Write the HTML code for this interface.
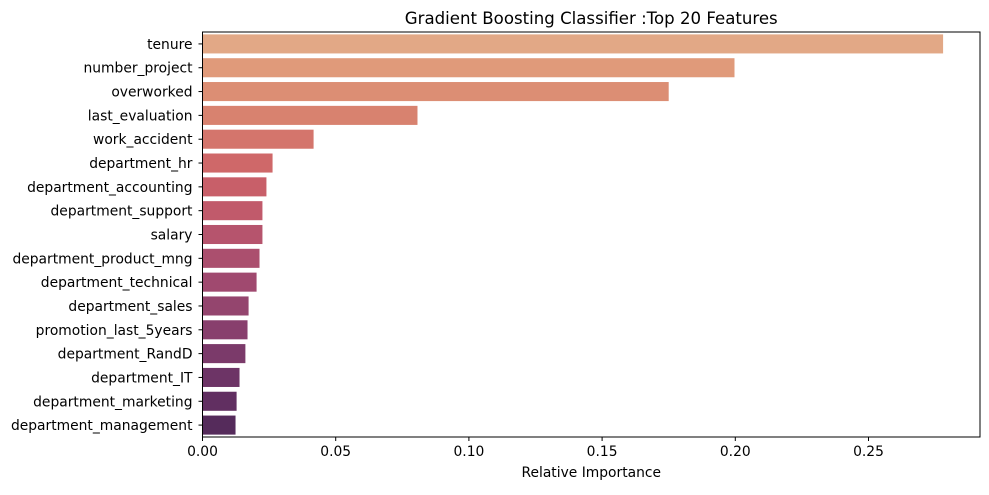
<!DOCTYPE html>
<html><head><meta charset="utf-8"><style>
body{margin:0;background:#fff}
svg text{font-family:"DejaVu Sans","Liberation Sans",sans-serif;fill:#000}
</style></head><body>
<svg id="c" width="989" height="490"></svg>
<script>
const categories=["tenure","number_project","overworked","last_evaluation","work_accident","department_hr","department_accounting","department_support","salary","department_product_mng","department_technical","department_sales","promotion_last_5years","department_RandD","department_IT","department_marketing","department_management"];
const values=[0.278,0.1997,0.175,0.0807,0.0417,0.0263,0.024,0.0225,0.0225,0.0214,0.0203,0.0173,0.0169,0.0161,0.0139,0.0128,0.0124];
const tickValues=[0,0.05,0.1,0.15,0.2,0.25];
const tickLabels=["0.00","0.05","0.10","0.15","0.20","0.25"];
const colors=["#e2a886","#e09a7a","#dc8e74","#d8826f","#d4756c","#cf6869","#c85f69","#c15a6b","#b6546d","#ab4f6e","#a0496f","#94456e","#883f6d","#7b3a6a","#6d3466","#612f61","#552b5b"];
const svg=document.getElementById('c');const NS='http://www.w3.org/2000/svg';
const L=202.5,R=980,T=32,B=437;
const xs=v=>L+v*2664;
const band=(B-T)/categories.length;
const ys=i=>T+band*(i+0.5);
function mk(t,a,p){const e=document.createElementNS(NS,t);for(const k in a)e.setAttribute(k,a[k]);(p||svg).appendChild(e);return e;}
categories.forEach((c,i)=>{
 const r=mk('rect',{x:L,y:ys(i)-band*0.4,width:xs(values[i])-L,height:band*0.8,fill:colors[i]});
 
 
 mk('line',{x1:L-4,x2:L,y1:ys(i),y2:ys(i),stroke:'#000','stroke-width':1});
 const t=mk('text',{x:L-10,y:ys(i)+5,'text-anchor':'end','font-size':13.85});t.textContent=c;
 
 
});
tickValues.forEach((v,i)=>{
 mk('line',{x1:xs(v),x2:xs(v),y1:B,y2:B+4,stroke:'#000'});
 const t=mk('text',{x:xs(v),y:B+19,'text-anchor':'middle','font-size':13.85});t.textContent=tickLabels[i];
 
 
});
const f=mk('rect',{x:L,y:T,width:R-L,height:B-T,fill:'none',stroke:'#000','stroke-width':1});


const xt=mk('text',{x:(L+R)/2,y:477,'text-anchor':'middle','font-size':13.85});xt.textContent='Relative Importance';


const ti=mk('text',{x:(L+R)/2,y:24,'text-anchor':'middle','font-size':16.6});ti.textContent='Gradient Boosting Classifier :Top 20 Features';


</script>
</body></html>
